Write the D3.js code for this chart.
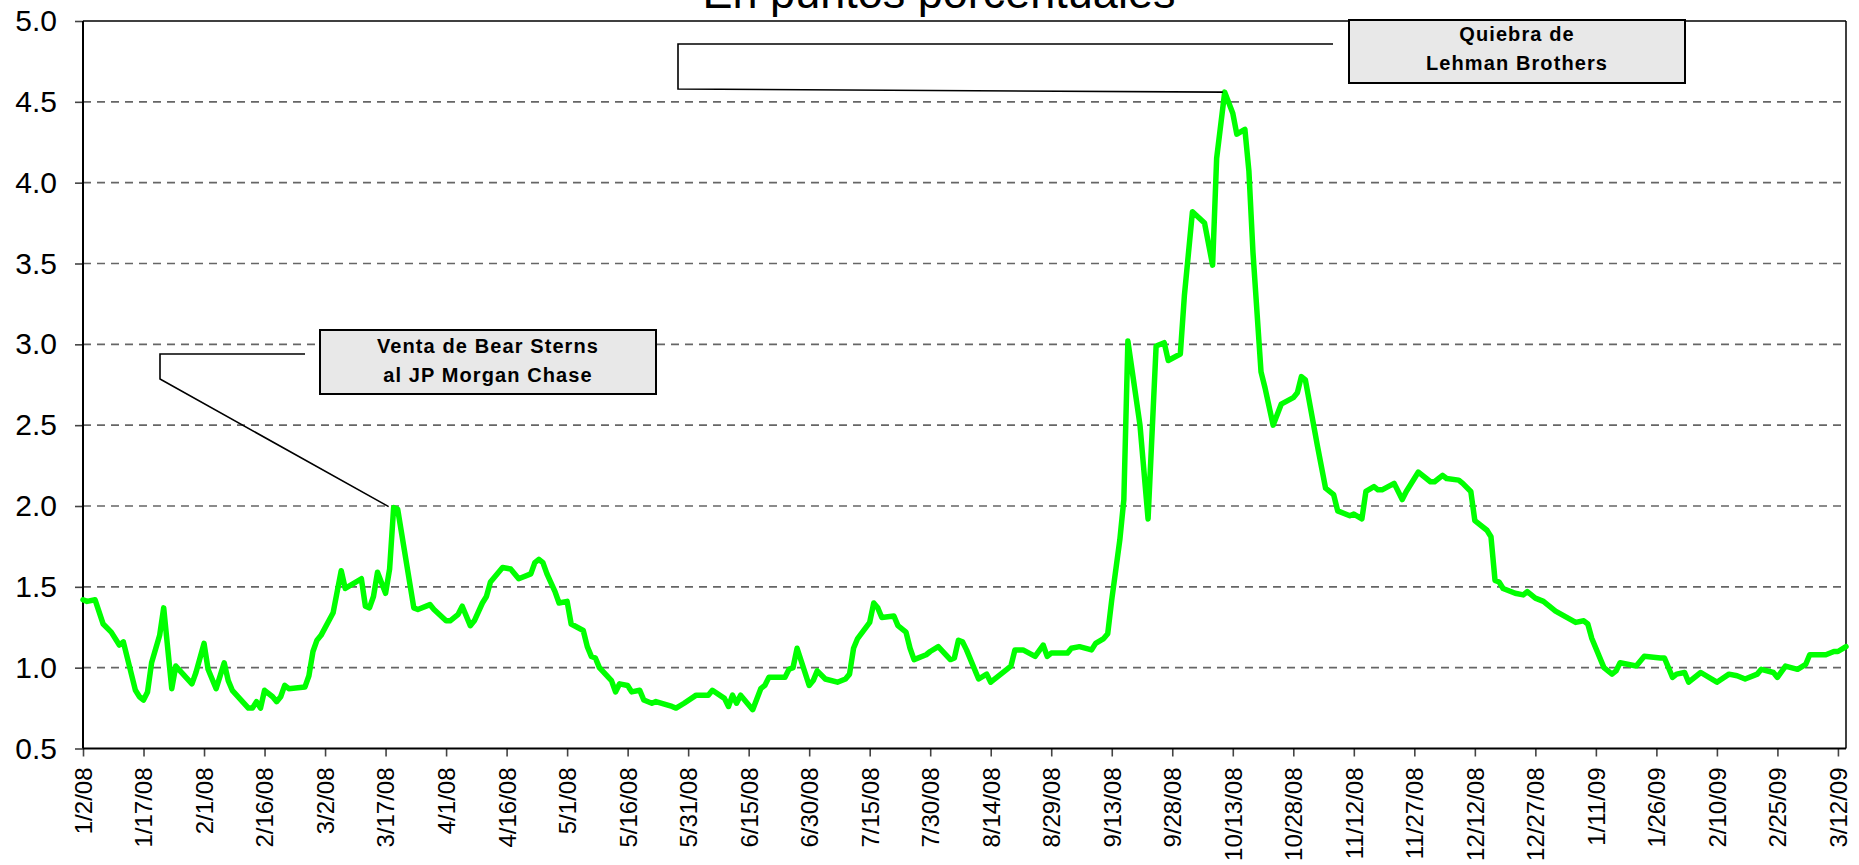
<!DOCTYPE html>
<html><head><meta charset="utf-8">
<script src="https://cdn.jsdelivr.net/npm/d3@7"></script>
<style>
html,body{margin:0;padding:0;background:#fff;}
svg{display:block;font-family:"Liberation Sans",Arial,Helvetica,sans-serif;}
</style>
</head><body>
<svg id="chart" width="1859" height="865"></svg>
<script>
// ---- DATA ----
const startDate = "2008-01-02";
// days elapsed since 1/2/08 for each reading
const dayOffsets = [
0,1,3,5,7,9,10,13,14,15,16,17,19,20,22,23,27,28,30,31,33,35,36,37,41,42,43,44,45,47,48,49,50,51,55,56,57,58,59,62,
64,65,67,69,70,71,72,73,75,76,77,78,82,83,86,87,90,91,93,94,96,97,99,100,101,104,106,108,111,112,113,114,115,117,118,120,121,124,125,126,
127,128,131,132,133,135,136,138,139,141,142,146,147,149,152,155,156,159,160,161,162,163,166,168,169,170,174,175,176,177,180,181,182,184,187,189,190,191,192,195,
196,197,198,201,202,204,205,206,209,210,212,215,216,217,218,219,222,224,225,229,230,231,233,236,238,239,240,244,245,247,250,251,253,254,
255,257,258,259,262,264,266,268,269,272,273,275,278,280,281,283,285,286,288,289,290,292,293,295,297,300,301,302,303,306,308,310,311,314,315,317,318,320,321,322,
325,327,328,331,334,335,337,338,341,342,344,345,348,349,350,351,352,355,357,358,360,362,365,370,372,373,374,377,379,380,381,385,387,391,392,394,395,397,398,401,
405,408,410,412,415,416,419,420,422,425,427,428,432,434,435,437
];
// spread, percentage points
const spreadValues = [
1.42,1.41,1.42,1.27,1.22,1.14,1.16,0.86,0.82,0.80,0.85,1.03,1.20,1.37,0.87,1.01,0.90,0.97,1.15,0.99,0.87,1.03,0.92,0.86,0.75,0.75,0.79,0.75,0.86,0.82,0.79,0.82,0.89,0.87,0.88,0.95,1.10,1.17,1.20,1.34,
1.60,1.49,1.52,1.55,1.38,1.37,1.44,1.59,1.46,1.61,1.99,1.98,1.37,1.36,1.39,1.36,1.29,1.29,1.33,1.38,1.26,1.29,1.40,1.44,1.53,1.62,1.61,1.55,1.58,1.65,1.67,1.65,1.58,1.47,1.40,1.41,1.27,1.23,1.13,1.07,
1.06,1.00,0.92,0.85,0.90,0.89,0.85,0.86,0.80,0.78,0.79,0.76,0.75,0.78,0.83,0.83,0.86,0.81,0.76,0.83,0.78,0.83,0.74,0.87,0.89,0.94,0.94,0.99,1.00,1.12,0.89,0.92,0.98,0.93,0.91,0.93,0.96,1.12,1.18,1.28,
1.40,1.37,1.31,1.32,1.26,1.22,1.12,1.05,1.08,1.10,1.13,1.05,1.06,1.17,1.16,1.11,0.93,0.96,0.91,0.99,1.01,1.11,1.11,1.07,1.14,1.07,1.09,1.09,1.12,1.13,1.11,1.15,1.18,1.21,
1.42,1.79,2.04,3.02,2.50,1.92,2.99,3.01,2.90,2.94,3.30,3.82,3.75,3.49,4.15,4.56,4.43,4.30,4.33,4.07,3.57,2.83,2.73,2.50,2.63,2.67,2.70,2.80,2.78,2.37,2.11,2.07,1.97,1.94,1.95,1.92,2.09,2.12,2.10,2.10,
2.14,2.04,2.09,2.21,2.15,2.15,2.19,2.17,2.16,2.14,2.09,1.91,1.85,1.81,1.54,1.53,1.49,1.46,1.45,1.47,1.43,1.41,1.35,1.28,1.29,1.27,1.18,1.00,0.96,0.98,1.03,1.01,1.07,1.06,1.06,0.94,0.96,0.97,0.91,0.97,
0.91,0.96,0.95,0.93,0.96,0.99,0.97,0.94,1.01,0.99,1.02,1.08,1.08,1.10,1.10,1.13
];
const yTickValues = [0.5,1.0,1.5,2.0,2.5,3.0,3.5,4.0,4.5,5.0];
const xTickStepDays = 15;
const xTickLastDay = 435;   // 3/12/09
const xDomainDays = 437;
const titleText = "En puntos porcentuales";
const bearLabel = ["Venta de Bear Sterns", "al JP Morgan Chase"];
const lehmanLabel = ["Quiebra de", "Lehman Brothers"];

// ---- LAYOUT ----
const svg = d3.select("#chart");
const L = 83, R = 1846, T = 21, B = 748.5;
const start = d3.timeParse("%Y-%m-%d")(startDate);
const dates = dayOffsets.map(d => d3.timeDay.offset(start, d));
const data = dates.map((d, i) => ({date: d, value: spreadValues[i]}));

const x = d3.scaleTime().domain([start, d3.timeDay.offset(start, xDomainDays)]).range([L, R]);
const y = d3.scaleLinear().domain([0.5, 5]).range([B, T]);

// title (partially cut off at top)
svg.append("text").attr("x", 939).attr("y", 8).attr("text-anchor", "middle")
  .attr("font-size", 45).attr("fill", "#000").text(titleText);

// gridlines
svg.append("g").selectAll("line").data(yTickValues.filter(v => v > 0.5 && v < 5))
  .join("line").attr("x1", L).attr("x2", R).attr("y1", d => y(d)).attr("y2", d => y(d))
  .attr("stroke", "#666").attr("stroke-width", 1.6).attr("stroke-dasharray", "8,6");

// x axis
const xTicks = d3.range(0, xTickLastDay + 1, xTickStepDays).map(d => d3.timeDay.offset(start, d));
const xAxis = svg.append("g").attr("transform", `translate(0,${B})`)
  .call(d3.axisBottom(x).tickValues(xTicks).tickFormat(d3.timeFormat("%-m/%-d/%y")).tickSize(8).tickSizeOuter(0));
xAxis.select(".domain").remove();
xAxis.selectAll(".tick line").attr("stroke", "#444").attr("stroke-width", 1.6);
xAxis.selectAll(".tick text").attr("transform", "rotate(-90)").attr("x", -19).attr("y", 0)
  .attr("dy", "0.35em").attr("text-anchor", "end").attr("font-size", 24).attr("fill", "#000")
  .attr("font-family", "'Liberation Sans',Arial,sans-serif");

// y axis
const yAxis = svg.append("g").attr("transform", `translate(${L},0)`)
  .call(d3.axisLeft(y).tickValues(yTickValues).tickFormat(d3.format(".1f")).tickSize(8).tickPadding(18).tickSizeOuter(0));
yAxis.select(".domain").remove();
yAxis.selectAll(".tick line").attr("stroke", "#444").attr("stroke-width", 1.6);
yAxis.selectAll(".tick text").attr("font-size", 30).attr("fill", "#000")
  .attr("font-family", "'Liberation Sans',Arial,sans-serif");

// frame
svg.append("line").attr("x1", L).attr("x2", R).attr("y1", T).attr("y2", T).attr("stroke", "#000").attr("stroke-width", 1.5);
svg.append("line").attr("x1", R).attr("x2", R).attr("y1", T).attr("y2", B).attr("stroke", "#000").attr("stroke-width", 1.5);
svg.append("line").attr("x1", L).attr("x2", L).attr("y1", T).attr("y2", B).attr("stroke", "#000").attr("stroke-width", 2);
svg.append("line").attr("x1", L).attr("x2", R).attr("y1", B).attr("y2", B).attr("stroke", "#000").attr("stroke-width", 2);

// series line
svg.append("path").datum(data)
  .attr("d", d3.line().x(d => x(d.date)).y(d => y(d.value)))
  .attr("fill", "none").attr("stroke", "#00ff00").attr("stroke-width", 5.5)
  .attr("stroke-linejoin", "round").attr("stroke-linecap", "round");

// annotations
const bearPeak = data.filter(d => d3.timeDay.count(start, d.date) < 100).reduce((a, b) => b.value > a.value ? b : a);
const lehmanPeak = data.reduce((a, b) => b.value > a.value ? b : a);

function connector(pts) {
  svg.append("path").attr("d", d3.line()(pts)).attr("fill", "none").attr("stroke", "#000").attr("stroke-width", 1.6);
}
connector([[305, 354], [160, 354], [160, 379], [x(bearPeak.date) - 5, y(bearPeak.value) - 1]]);
connector([[1333, 44], [678, 44], [678, 89], [x(lehmanPeak.date) - 2, y(lehmanPeak.value)]]);

function box(x0, y0, w, h, lines, baselines) {
  svg.append("rect").attr("x", x0).attr("y", y0).attr("width", w).attr("height", h)
    .attr("fill", "#e8e8e8").attr("stroke", "#000").attr("stroke-width", 2);
  lines.forEach((t, i) => {
    svg.append("text").attr("x", x0 + w / 2).attr("y", baselines[i]).attr("text-anchor", "middle")
      .attr("font-size", 20).attr("font-weight", "bold").attr("letter-spacing", "1.1px")
      .attr("fill", "#000").text(t);
  });
}
box(320, 330, 336, 64, bearLabel, [353, 382]);
box(1349, 20, 336, 63, lehmanLabel, [41, 70]);
</script>
</body></html>
